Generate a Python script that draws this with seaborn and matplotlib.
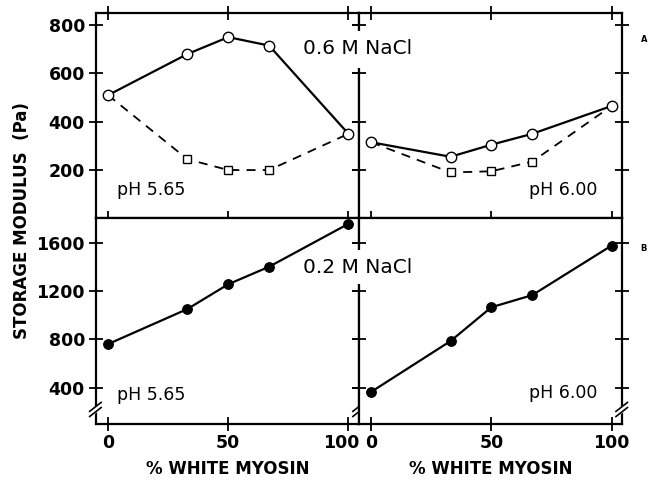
import numpy as np
import pandas as pd
import matplotlib
matplotlib.use("Agg")
import matplotlib.pyplot as plt
import matplotlib.transforms as mtransforms
import seaborn as sns

# % white myosin in the blend
pct_white = [0, 33, 50, 67, 100]

# 0.6 M NaCl (top row): open circles = solid line, open squares = dashed line
hi_salt_ph565_circle = [510, 680, 750, 715, 350]
hi_salt_ph565_square = [510, 245, 200, 200, 350]
hi_salt_ph600_circle = [315, 255, 305, 350, 465]
hi_salt_ph600_square = [315, 190, 195, 235, 465]

# 0.2 M NaCl (bottom row): filled circles
lo_salt_ph565 = [760, 1050, 1255, 1400, 1755]
lo_salt_ph600 = [365, 785, 1065, 1165, 1575]

top_yticks = [200, 400, 600, 800]
bottom_yticks = [400, 800, 1200, 1600]
xticks = [0, 50, 100]

sns.set_theme(style="ticks")
plt.rcParams['font.family'] = ['DejaVu Sans']
plt.rcParams['axes.labelcolor'] = 'black'
plt.rcParams['text.color'] = 'black'

fig, axes = plt.subplots(2, 2, figsize=(6.49, 4.80), dpi=100, sharex='col')
fig.subplots_adjust(left=0.148, right=0.959, top=0.973, bottom=0.117,
                    hspace=0, wspace=0)


def draw_pair(ax, circles, squares):
    # dashed curve first so the shared end points show as circles
    sns.lineplot(x=pct_white, y=squares, ax=ax, color='black', lw=1.3,
                 linestyle=(0, (5, 4)))
    sns.lineplot(x=pct_white[1:-1], y=squares[1:-1], ax=ax, color='black',
                 marker='s', markersize=6, markerfacecolor='white',
                 markeredgecolor='black', markeredgewidth=1.0, linestyle='none')
    sns.lineplot(x=pct_white, y=circles, ax=ax, color='black', lw=1.6,
                 marker='o', markersize=7.5, markerfacecolor='white',
                 markeredgecolor='black', markeredgewidth=1.0)


draw_pair(axes[0, 0], hi_salt_ph565_circle, hi_salt_ph565_square)
draw_pair(axes[0, 1], hi_salt_ph600_circle, hi_salt_ph600_square)

for ax, vals in [(axes[1, 0], lo_salt_ph565), (axes[1, 1], lo_salt_ph600)]:
    sns.lineplot(x=pct_white, y=vals, ax=ax, color='black', lw=1.6,
                 marker='o', markersize=7, markerfacecolor='black',
                 markeredgecolor='black')

for ax in axes[0]:
    ax.set_ylim(0, 850)
    ax.set_yticks(top_yticks)
for ax in axes[1]:
    ax.set_ylim(100, 1800)
    ax.set_yticks(bottom_yticks)

for ax in axes.flat:
    ax.set_xlim(-5, 104.5)
    ax.set_xticks(xticks)
    ax.set_xlabel('')
    ax.set_ylabel('')
    for sp in ax.spines.values():
        sp.set_visible(True)
        sp.set_linewidth(1.6)
        sp.set_color('black')
    ax.tick_params(axis='both', which='major', direction='inout', length=10,
                   width=1.3, color='black', top=True, right=True,
                   labelsize=12.5, labelcolor='black', pad=3)
    for lbl in ax.get_xticklabels() + ax.get_yticklabels():
        lbl.set_fontweight('bold')

for ax in axes[:, 1]:
    ax.tick_params(axis='y', labelleft=False)
for ax in axes[0]:
    ax.tick_params(axis='x', labelbottom=False)
for ax in axes[1]:
    ax.tick_params(axis='x', top=False, pad=2)
    ax.set_xlabel('% WHITE MYOSIN', fontsize=12, fontweight='bold',
                  labelpad=6, color='black')

# nudge the left "100" so it clears the right panel's "0"
fig.canvas.draw()
shift = mtransforms.ScaledTranslation(-7 / 100, 0, fig.dpi_scale_trans)
last = axes[1, 0].xaxis.get_major_ticks()[-1].label1
last.set_transform(last.get_transform() + shift)

# the middle spine is broken where the salt labels sit
for ax, (y0, y1) in [(axes[0, 1], (0.73, 0.91)), (axes[1, 1], (0.68, 0.845))]:
    ax.plot([0, 0], [y0, y1], transform=ax.transAxes, color='white', lw=4,
            clip_on=False, zorder=5, solid_capstyle='butt')

# panel annotations
txt = dict(color='black')
axes[0, 0].text(0.08, 0.14, 'pH 5.65', transform=axes[0, 0].transAxes,
                fontsize=12.5, ha='left', va='center', **txt)
axes[0, 1].text(0.905, 0.14, 'pH 6.00', transform=axes[0, 1].transAxes,
                fontsize=12.5, ha='right', va='center', **txt)
axes[1, 0].text(0.08, 0.14, 'pH 5.65', transform=axes[1, 0].transAxes,
                fontsize=12.5, ha='left', va='center', **txt)
axes[1, 1].text(0.905, 0.15, 'pH 6.00', transform=axes[1, 1].transAxes,
                fontsize=12.5, ha='right', va='center', **txt)
fig.text(0.551, 0.90, '0.6 M NaCl', fontsize=14.5, ha='center', va='center',
         zorder=10, **txt)
fig.text(0.551, 0.442, '0.2 M NaCl', fontsize=14.5, ha='center', va='center',
         zorder=10, **txt)
fig.text(0.034, 0.54, 'STORAGE MODULUS  (Pa)', rotation=90, fontsize=12,
         fontweight='bold', ha='center', va='center', **txt)
fig.text(0.997, 0.912, 'A', fontsize=6, fontweight='bold', ha='right', **txt)
fig.text(0.997, 0.478, 'B', fontsize=6, fontweight='bold', ha='right', **txt)

# axis break marks near the bottom of the lower panels
for ax, xpos in [(axes[1, 0], 0.0), (axes[1, 0], 1.0), (axes[1, 1], 1.0)]:
    ax.plot([xpos - 0.02, xpos + 0.02], [0.05, 0.09], transform=ax.transAxes,
            color='white', lw=4, clip_on=False, zorder=5)
    for dy in (0.0, 0.025):
        ax.plot([xpos - 0.025, xpos + 0.02], [0.035 + dy, 0.08 + dy],
                transform=ax.transAxes, color='black', lw=1.2,
                clip_on=False, zorder=6)

fig.savefig('out.png', dpi=100)
